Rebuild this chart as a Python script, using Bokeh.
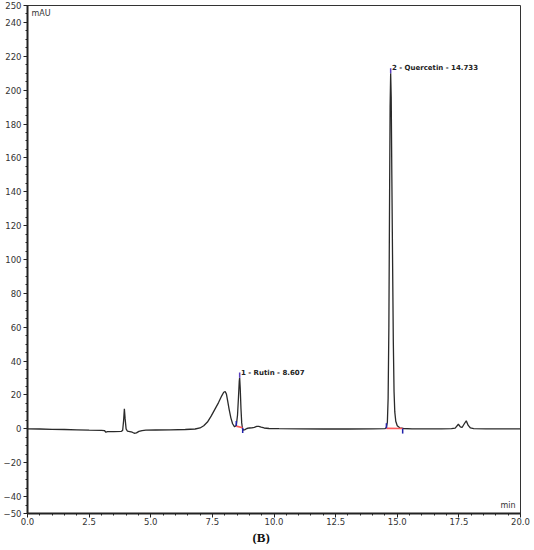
import numpy as np
from bokeh.plotting import figure
from bokeh.models import Range1d, FixedTicker, PrintfTickFormatter, Label, Title, ColumnDataSource
from bokeh.embed import file_html
from bokeh.resources import INLINE

# ---- chromatogram trace (time in min, signal in mAU) ----
time_min = [0.0, 0.5, 1.0, 1.5, 2.0, 2.5, 3.0, 3.12, 3.18, 3.25,
            3.5, 3.8, 3.86, 3.9, 3.93, 3.96, 4.0, 4.05, 4.15, 4.25,
            4.33, 4.42, 4.52, 4.65, 4.8, 5.2, 5.8, 6.4, 6.8, 7.0,
            7.15, 7.3, 7.45, 7.6, 7.75, 7.88, 7.96, 8.02, 8.07, 8.12,
            8.18, 8.25, 8.32, 8.4, 8.47, 8.52, 8.56, 8.59, 8.607, 8.63,
            8.66, 8.69, 8.72, 8.76, 8.82, 8.9, 9.0, 9.1, 9.2, 9.3,
            9.38, 9.48, 9.6, 9.8, 10.2, 11.0, 12.0, 13.0, 14.0, 14.5,
            14.56, 14.6, 14.63, 14.66, 14.69, 14.71, 14.733, 14.755, 14.78, 14.81,
            14.84, 14.87, 14.9, 14.94, 15.0, 15.1, 15.25, 15.6, 16.2, 16.8,
            17.2, 17.35, 17.48, 17.56, 17.63, 17.72, 17.8, 17.88, 17.97, 18.1,
            18.6, 19.2, 20.0]
signal_mau = [0.0, -0.1, -0.3, -0.4, -0.6, -0.8, -0.9, -1.0, -2.0, -1.7,
              -1.6, -1.5, -1.0, 5.0, 11.8, 6.0, 0.0, -1.3, -1.6, -2.0,
              -2.6, -2.4, -1.5, -1.0, -0.8, -0.7, -0.6, -0.4, -0.1, 0.5,
              1.8, 4.0, 7.5, 11.5, 15.5, 19.5, 21.6, 22.0, 20.5, 16.5,
              11.5, 6.5, 3.0, 1.2, 2.0, 8.0, 19.0, 28.0, 30.2, 24.0,
              12.0, 3.5, 0.2, -0.8, -0.5, 0.2, 0.5, 0.6, 0.9, 1.4,
              1.5, 1.0, 0.5, 0.2, 0.1, 0.0, -0.1, -0.1, 0.0, 0.1,
              0.8, 4.0, 18.0, 60.0, 140.0, 190.0, 210.0, 196.0, 150.0, 100.0,
              52.0, 22.0, 10.0, 4.5, 1.8, 0.6, 0.2, 0.0, 0.0, 0.0,
              0.1, 0.4, 2.7, 1.2, 0.8, 3.0, 4.7, 2.0, 0.5, 0.1,
              0.0, 0.0, 0.0]
assert len(time_min) == len(signal_mau)

# ---- integrated peaks ----
peak_labels = ["1 - Rutin - 8.607", "2 - Quercetin - 14.733"]
peak_rt = [8.607, 14.733]
peak_height = [30.2, 210.0]
peak_start = [8.47, 14.56]
peak_end = [8.73, 15.22]
base_start = [1.6, 0.3]
base_end = [0.6, 0.2]

# ---- axis ticks ----
x_ticks = [0.0, 2.5, 5.0, 7.5, 10.0, 12.5, 15.0, 17.5, 20.0]
y_ticks = [-50, -40, -20, 0, 20, 40, 60, 80, 100, 120, 140, 160, 180, 200, 220, 240, 250]

p = figure(frame_width=493, frame_height=508,
           x_range=Range1d(0, 20), y_range=Range1d(-50, 250),
           output_backend="svg", toolbar_location=None,
           min_border_left=23, min_border_right=10, min_border_top=5, min_border_bottom=30)
p.xgrid.visible = False
p.ygrid.visible = False
p.outline_line_color = "#333333"
p.outline_line_width = 1
p.background_fill_color = "white"
p.border_fill_color = "white"

p.xaxis.ticker = FixedTicker(ticks=x_ticks, minor_ticks=list(np.arange(0, 20.01, 0.5)))
p.xaxis.formatter = PrintfTickFormatter(format="%.1f")
p.yaxis.ticker = FixedTicker(ticks=y_ticks, minor_ticks=list(range(-50, 251, 5)))

for ax in (p.xaxis[0], p.yaxis[0]):
    ax.axis_line_width = 2
    ax.axis_line_color = "#222222"
    ax.major_tick_line_color = "#222222"
    ax.minor_tick_line_color = "#222222"
    ax.major_tick_in = 0
    ax.major_tick_out = 4
    ax.minor_tick_in = 0
    ax.minor_tick_out = 2
    ax.major_label_text_font = "DejaVu Sans"
    ax.major_label_text_font_size = "8.5px"
    ax.major_label_text_color = "#333333"
p.yaxis.major_label_standoff = 2
p.xaxis.major_label_standoff = 0

# trace
p.line(time_min, signal_mau, line_color="#2a2a2a", line_width=1.3)

# integration baselines and markers
src = ColumnDataSource(dict(rt=peak_rt, h=peak_height, s=peak_start, e=peak_end,
                            bs=base_start, be=base_end,
                            bs_top=[b + 3 for b in base_start],
                            be_bot=[b - 3 for b in base_end],
                            h_top=[h + 3 for h in peak_height]))
p.segment(x0="s", y0="bs", x1="e", y1="be", source=src, line_color="#ff5a5a", line_width=1.6)
p.segment(x0="s", y0="bs", x1="s", y1="bs_top", source=src, line_color="#2222aa", line_width=1.5)
p.segment(x0="e", y0="be", x1="e", y1="be_bot", source=src, line_color="#2222aa", line_width=1.5)
p.segment(x0="rt", y0="h", x1="rt", y1="h_top", source=src, line_color="#5a40c0", line_width=1.5)

for name, rt, h in zip(peak_labels, peak_rt, peak_height):
    p.add_layout(Label(x=rt + 0.05, y=h + 3, text=name, text_font="DejaVu Sans",
                       text_font_style="bold", text_font_size="7px", text_color="#222222",
                       text_baseline="middle"))

p.add_layout(Label(x=0.16, y=245, text="mAU", text_font="DejaVu Sans", text_font_size="8px",
                   text_color="#333333", text_baseline="middle"))
p.add_layout(Label(x=19.8, y=-45, text="min", text_font="DejaVu Sans", text_font_size="8px",
                   text_color="#333333", text_baseline="middle", text_align="right"))

p.add_layout(Title(text="(B)", align="left", offset=225, text_font="Liberation Serif",
                   text_font_style="bold", text_font_size="13px", text_color="#111111",
                   standoff=0), "below")

open("out.html", "w").write(file_html(p, INLINE))
